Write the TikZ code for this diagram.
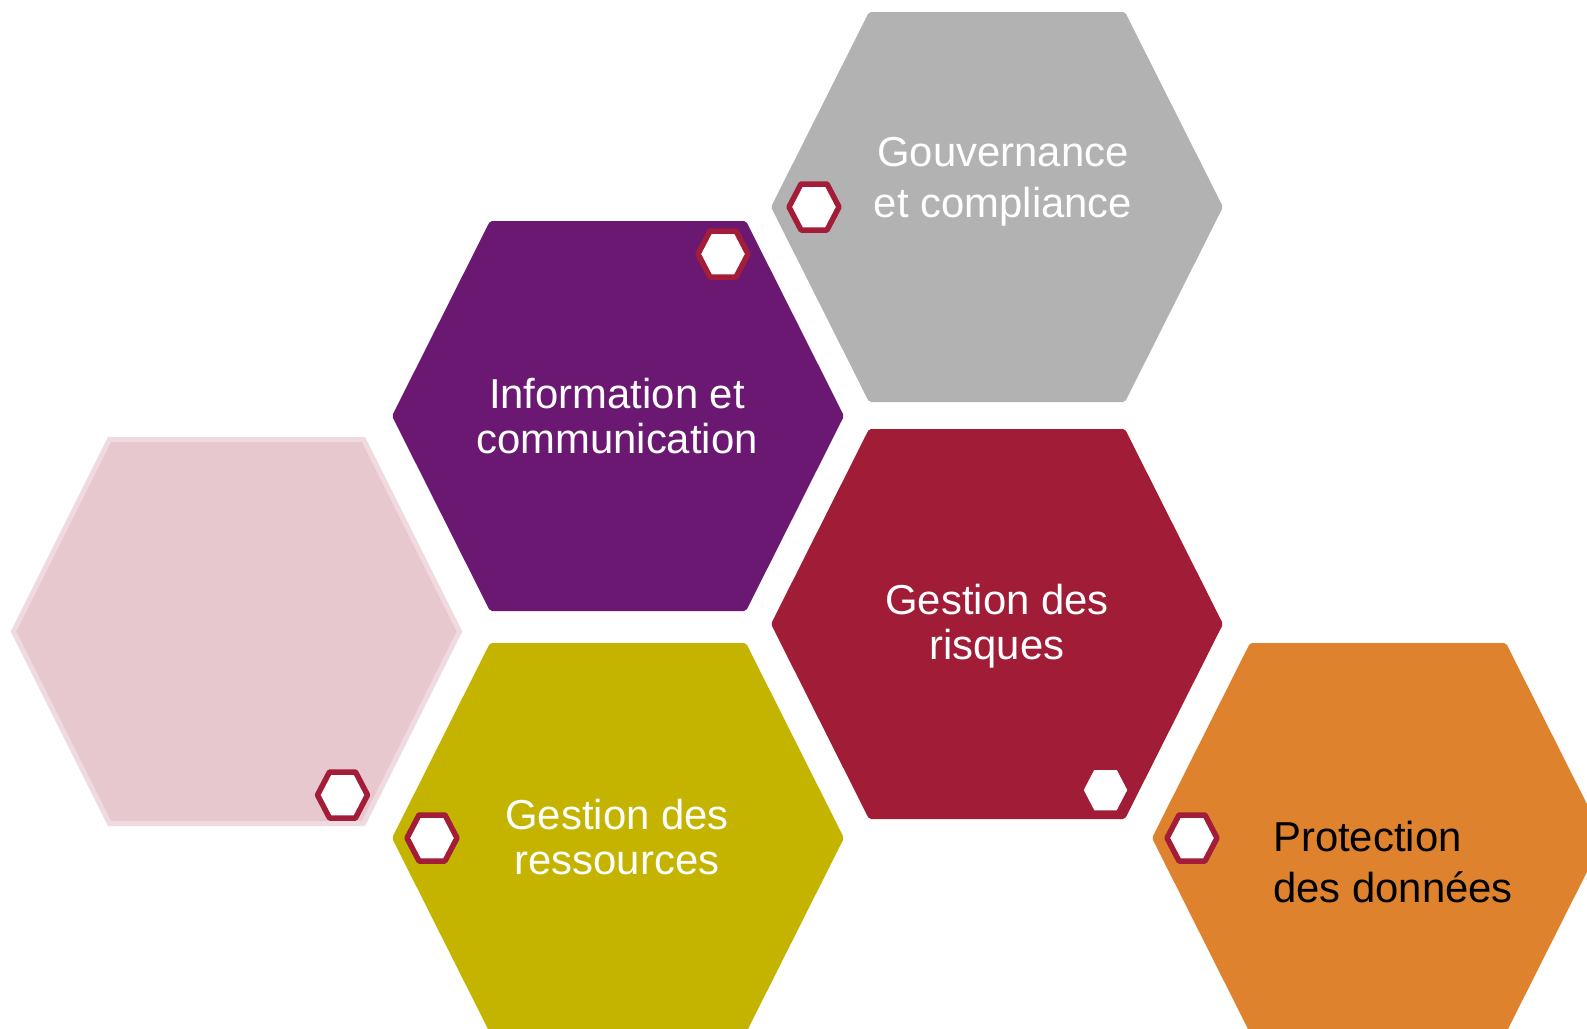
\documentclass[tikz,border=0pt]{standalone}
\usepackage{fontspec}
\setmainfont{Liberation Sans}
\definecolor{hgray}{HTML}{B2B2B2}
\definecolor{hpurple}{HTML}{6B1872}
\definecolor{hred}{HTML}{A01C37}
\definecolor{holive}{HTML}{C4B400}
\definecolor{horange}{HTML}{DE822E}
\definecolor{hpink}{HTML}{E6C8CE}
\definecolor{hpinkline}{HTML}{EFDADF}
\definecolor{hmark}{HTML}{A31D38}
\tikzset{
  bighex/.pic={\path[pic actions] (-128,-195) -- (128,-195) -- (226,0) -- (128,195) -- (-128,195) -- (-226,0) -- cycle;},
  pinkhex/.pic={\path[pic actions] (-127,-192) -- (127,-192) -- (223,0) -- (127,192) -- (-127,192) -- (-223,0) -- cycle;},
  smallhex/.pic={\path[pic actions] (-13,-23) -- (13,-23) -- (25,0) -- (13,23) -- (-13,23) -- (-25,0) -- cycle;},
  markhex/.style={draw=hmark,fill=white,line width=5.5bp,line join=round},
  label/.style={text=white,align=center,font=\fontsize{42}{45}\selectfont,inner sep=0pt},
  widelabel/.style={label,font=\fontsize{42}{51.5}\selectfont},
}
\begin{document}
\begin{tikzpicture}[x=1bp,y=-1bp]
\useasboundingbox (0,0) rectangle (1587,1028);
\clip (0,0) rectangle (1587,1028);
\coordinate (cgray) at (997,207);
\coordinate (cpurple) at (618,416);
\coordinate (cred) at (997,624);
\coordinate (colive) at (618,838);
\coordinate (corange) at (1378,838);
\coordinate (cpink) at (236.5,631.5);
\pic[fill=hgray,rounded corners=2bp] at (cgray) {bighex};
\pic[fill=hpurple,rounded corners=2bp] at (cpurple) {bighex};
\pic[fill=hred,rounded corners=2bp] at (cred) {bighex};
\pic[fill=holive,rounded corners=2bp] at (colive) {bighex};
\pic[fill=horange,rounded corners=2bp] at (corange) {bighex};
\pic[fill=hpink,draw=hpinkline,line width=5bp] at (cpink) {pinkhex};
\coordinate (mgray) at (814,207);
\coordinate (mpurple) at (723,254);
\coordinate (mpink) at (342.5,795);
\coordinate (molive) at (432,838);
\coordinate (mred) at (1105.5,790);
\coordinate (morange) at (1192,838);
\pic[markhex] at (mgray) {smallhex};
\pic[markhex] at (mpurple) {smallhex};
\pic[markhex] at (mpink) {smallhex};
\pic[markhex] at (molive) {smallhex};
\pic[markhex,draw=hred] at (mred) {smallhex};
\pic[markhex] at (morange) {smallhex};
\node[widelabel] (tgray) at (1003,182) {Gouvernance\\et compliance};
\node[label] (tpurple) at (617,416) {Information et\\communication};
\node[label] (tred) at (997,626) {Gestion des\\risques};
\node[label] (tolive) at (617,837) {Gestion des\\ressources};
\node[widelabel,text=black,align=left,anchor=west] (torange) at (1273,862) {Protection\\des données};
\end{tikzpicture}
\end{document}
